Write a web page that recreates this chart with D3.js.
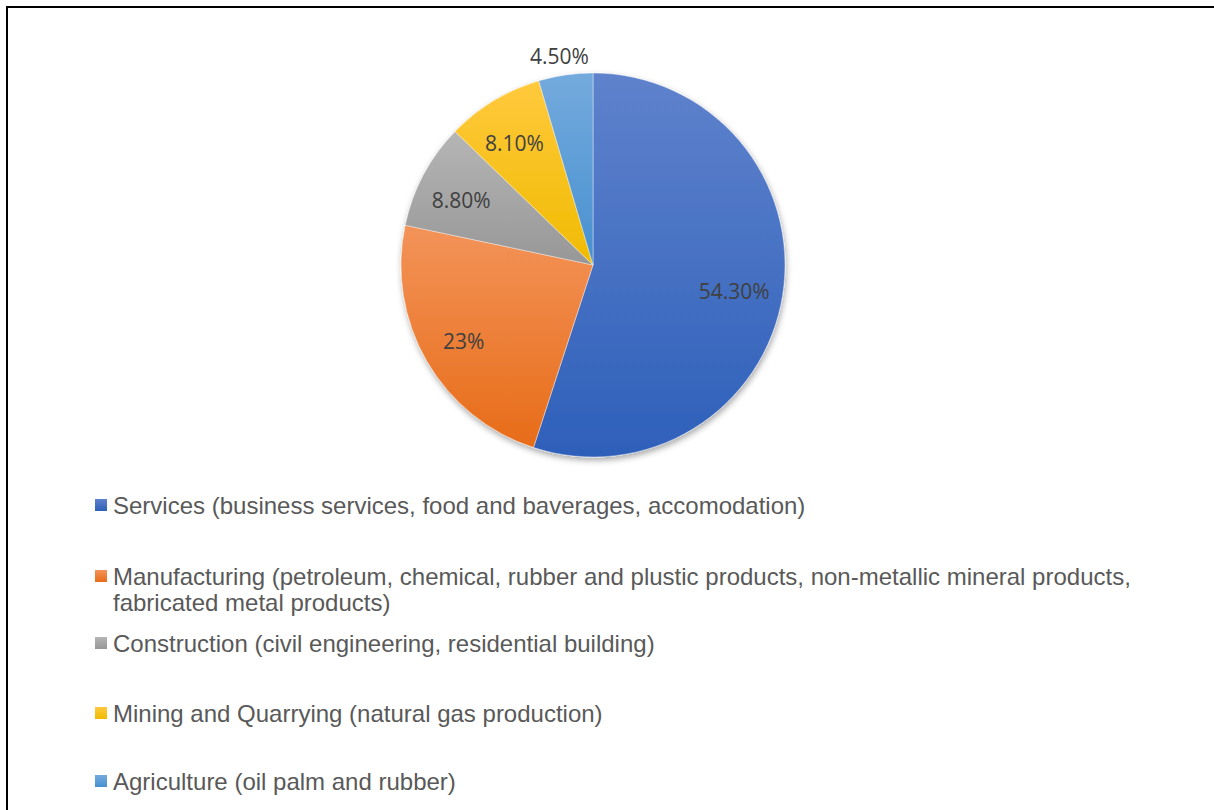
<!DOCTYPE html>
<html>
<head>
<meta charset="utf-8">
<script src="https://cdn.jsdelivr.net/npm/d3@7/dist/d3.min.js"></script>
<style>
  html, body { margin: 0; padding: 0; background: #fff; }
  svg { display: block; }
</style>
</head>
<body>
<svg id="chart" width="1214" height="810"></svg>
<script>
// Sector shares of the economy (percent)
const sectors = [
  "Services (business services, food and baverages, accomodation)",
  "Manufacturing (petroleum, chemical, rubber and plustic products, non-metallic mineral products, fabricated metal products)",
  "Construction (civil engineering, residential building)",
  "Mining and Quarrying (natural gas production)",
  "Agriculture (oil palm and rubber)"
];
const shares = [54.3, 23, 8.8, 8.1, 4.5];
const shareLabels = ["54.30%", "23%", "8.80%", "8.10%", "4.50%"];
const colorTop = ["#5f82cc", "#f39359", "#b5b5b5", "#ffc93d", "#74aadd"];
const colorBottom = ["#2e60ba", "#e76c18", "#979797", "#f0bb00", "#4790d0"];

const svg = d3.select("#chart");
const W = 1214, H = 810;

// frame: top and left edges
svg.append("line").attr("x1", 7).attr("x2", W).attr("y1", 7).attr("y2", 7)
  .attr("stroke", "#000").attr("stroke-width", 2);
svg.append("line").attr("x1", 7).attr("x2", 7).attr("y1", 6).attr("y2", H)
  .attr("stroke", "#000").attr("stroke-width", 2);

const defs = svg.append("defs");
shares.forEach((d, i) => {
  const g = defs.append("linearGradient").attr("id", "grad" + i)
    .attr("x1", 0).attr("y1", 0).attr("x2", 0).attr("y2", 1);
  g.append("stop").attr("offset", "0%").attr("stop-color", colorTop[i]);
  g.append("stop").attr("offset", "100%").attr("stop-color", colorBottom[i]);
});
const shadow = defs.append("filter").attr("id", "shadow")
  .attr("x", "-20%").attr("y", "-20%").attr("width", "140%").attr("height", "140%");
shadow.append("feDropShadow").attr("dx", 1).attr("dy", 3).attr("stdDeviation", 3)
  .attr("flood-color", "#000").attr("flood-opacity", 0.35);

const cx = 593, cy = 265, R = 192;
const pie = d3.pie().sort(null).value(d => d);
const arcs = pie(shares);
const arc = d3.arc().innerRadius(0).outerRadius(R);

const gPie = svg.append("g").attr("transform", `translate(${cx},${cy})`);
gPie.append("g").attr("filter", "url(#shadow)")
  .selectAll("path").data(arcs).join("path")
  .attr("d", arc)
  .attr("fill", (d, i) => `url(#grad${i})`)
  .attr("stroke", "#fff").attr("stroke-width", 0.4);

// value labels: inside the slice, or just outside for thin slices
const inner = d3.arc().innerRadius(R * 0.76).outerRadius(R * 0.76);
const outer = d3.arc().innerRadius(R + 22).outerRadius(R + 22);
gPie.selectAll("text.val").data(arcs).join("text")
  .attr("class", "val")
  .attr("transform", d => {
    const small = d.data / d3.sum(shares) < 0.06;
    const [x, y] = (small ? outer : inner).centroid(d);
    return `translate(${x - 3},${y + 3})`;
  })
  .attr("text-anchor", "middle")
  .attr("dominant-baseline", "central")
  .attr("font-family", "'Open Sans', 'Noto Sans', sans-serif")
  .attr("font-size", 21)
  .attr("fill", "#404040")
  .text((d, i) => shareLabels[i]);

// legend
const legendX = 95, textX = 113, wrapW = 1030;
const rowY = [505, 576, 643, 713, 781];
const lineH = 26;
const legend = svg.append("g");
sectors.forEach((name, i) => {
  legend.append("rect")
    .attr("x", legendX).attr("y", rowY[i] - 6)
    .attr("width", 12).attr("height", 12)
    .attr("fill", `url(#grad${i})`);
  const t = legend.append("text")
    .attr("x", textX).attr("y", rowY[i])
    .attr("dominant-baseline", "central")
    .attr("font-family", "'Liberation Sans', Arial, sans-serif")
    .attr("font-size", 24)
    .attr("fill", "#595959");
  // simple word wrap
  const words = name.split(" ");
  let line = [];
  let tspan = t.append("tspan").attr("x", textX).attr("dy", 0);
  words.forEach(w => {
    line.push(w);
    tspan.text(line.join(" "));
    if (tspan.node().getComputedTextLength() > wrapW && line.length > 1) {
      line.pop();
      tspan.text(line.join(" "));
      line = [w];
      tspan = t.append("tspan").attr("x", textX).attr("dy", lineH).text(w);
    }
  });
});
</script>
</body>
</html>
